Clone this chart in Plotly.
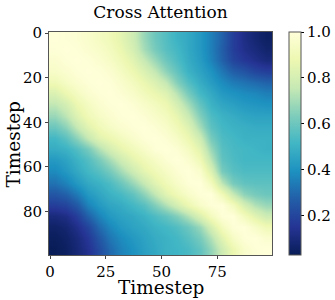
import plotly.graph_objects as go

title_text = "Cross Attention"
x_label = "Timestep"
y_label = "Timestep"

# 20x20 block-averaged attention (each block = 5 timesteps)
block = 5
n_steps = 100
attention = [
    [1.00, 0.99, 0.98, 0.96, 0.93, 0.90, 0.85, 0.78, 0.68, 0.60, 0.55, 0.50, 0.47, 0.42, 0.35, 0.28, 0.18, 0.12, 0.08, 0.05],
    [0.99, 1.00, 0.99, 0.97, 0.95, 0.92, 0.87, 0.80, 0.70, 0.62, 0.56, 0.52, 0.47, 0.42, 0.35, 0.27, 0.18, 0.13, 0.10, 0.07],
    [0.97, 0.99, 1.00, 0.99, 0.97, 0.94, 0.90, 0.84, 0.76, 0.68, 0.60, 0.54, 0.48, 0.43, 0.36, 0.28, 0.20, 0.16, 0.13, 0.10],
    [0.95, 0.97, 0.99, 1.00, 0.99, 0.97, 0.93, 0.88, 0.82, 0.75, 0.66, 0.58, 0.50, 0.45, 0.40, 0.33, 0.27, 0.24, 0.20, 0.18],
    [0.90, 0.94, 0.97, 0.99, 1.00, 0.99, 0.96, 0.92, 0.87, 0.82, 0.75, 0.64, 0.55, 0.48, 0.43, 0.38, 0.34, 0.32, 0.30, 0.28],
    [0.82, 0.88, 0.93, 0.97, 0.99, 1.00, 0.98, 0.95, 0.91, 0.87, 0.83, 0.73, 0.62, 0.52, 0.47, 0.42, 0.40, 0.38, 0.37, 0.35],
    [0.75, 0.80, 0.88, 0.93, 0.97, 0.99, 1.00, 0.98, 0.95, 0.92, 0.88, 0.80, 0.70, 0.58, 0.50, 0.46, 0.44, 0.42, 0.41, 0.40],
    [0.68, 0.74, 0.83, 0.90, 0.94, 0.97, 0.99, 1.00, 0.98, 0.95, 0.92, 0.86, 0.77, 0.64, 0.54, 0.50, 0.48, 0.46, 0.45, 0.45],
    [0.60, 0.66, 0.76, 0.84, 0.90, 0.94, 0.97, 0.99, 1.00, 0.98, 0.95, 0.90, 0.83, 0.70, 0.57, 0.52, 0.50, 0.49, 0.48, 0.48],
    [0.52, 0.57, 0.66, 0.76, 0.84, 0.88, 0.92, 0.96, 0.99, 1.00, 0.98, 0.94, 0.88, 0.78, 0.62, 0.54, 0.52, 0.50, 0.50, 0.50],
    [0.48, 0.50, 0.55, 0.62, 0.72, 0.80, 0.86, 0.91, 0.95, 0.99, 1.00, 0.98, 0.93, 0.84, 0.68, 0.56, 0.53, 0.52, 0.51, 0.50],
    [0.42, 0.45, 0.50, 0.55, 0.62, 0.70, 0.78, 0.85, 0.90, 0.94, 0.98, 1.00, 0.97, 0.90, 0.74, 0.58, 0.54, 0.52, 0.52, 0.52],
    [0.38, 0.42, 0.47, 0.52, 0.56, 0.62, 0.70, 0.78, 0.85, 0.90, 0.94, 0.98, 1.00, 0.96, 0.82, 0.62, 0.56, 0.54, 0.54, 0.54],
    [0.32, 0.36, 0.42, 0.47, 0.50, 0.54, 0.60, 0.68, 0.76, 0.84, 0.90, 0.95, 0.99, 1.00, 0.92, 0.74, 0.62, 0.58, 0.57, 0.57],
    [0.25, 0.28, 0.34, 0.42, 0.46, 0.50, 0.53, 0.58, 0.66, 0.75, 0.84, 0.90, 0.95, 0.99, 1.00, 0.90, 0.76, 0.66, 0.62, 0.60],
    [0.18, 0.20, 0.26, 0.36, 0.42, 0.46, 0.48, 0.52, 0.56, 0.64, 0.72, 0.80, 0.88, 0.95, 0.99, 1.00, 0.92, 0.80, 0.72, 0.68],
    [0.10, 0.12, 0.18, 0.28, 0.36, 0.42, 0.45, 0.47, 0.50, 0.54, 0.58, 0.64, 0.72, 0.82, 0.92, 0.99, 1.00, 0.92, 0.84, 0.78],
    [0.06, 0.08, 0.13, 0.20, 0.30, 0.37, 0.42, 0.45, 0.47, 0.50, 0.52, 0.55, 0.60, 0.68, 0.80, 0.92, 0.99, 1.00, 0.95, 0.90],
    [0.04, 0.06, 0.10, 0.16, 0.25, 0.33, 0.38, 0.42, 0.45, 0.48, 0.50, 0.52, 0.56, 0.62, 0.72, 0.84, 0.94, 0.99, 1.00, 0.97],
    [0.03, 0.05, 0.09, 0.14, 0.22, 0.30, 0.36, 0.40, 0.44, 0.47, 0.50, 0.51, 0.53, 0.58, 0.67, 0.78, 0.88, 0.96, 0.99, 1.00],
]
x_ticks = [0, 25, 50, 75]
y_ticks = [0, 20, 40, 60, 80]
cbar_ticks = [0.2, 0.4, 0.6, 0.8, 1.0]
z_min, z_max = 0.03, 1.0

centers = [b * block + (block - 1) / 2 for b in range(n_steps // block)]

ylgnbu_r = [
    [0.0, "rgb(8,29,88)"], [0.125, "rgb(37,52,148)"], [0.25, "rgb(34,94,168)"],
    [0.375, "rgb(29,145,192)"], [0.5, "rgb(65,182,196)"], [0.625, "rgb(127,205,187)"],
    [0.75, "rgb(199,233,180)"], [0.875, "rgb(237,248,177)"], [1.0, "rgb(255,255,217)"],
]

font_family = "DejaVu Serif"
W, H = 335, 300
ML, MR, MT, MB = 49, 63, 32, 45
plot_w = W - ML - MR
plot_h = H - MT - MB

fig = go.Figure(go.Heatmap(
    z=attention, x=centers, y=centers,
    colorscale=ylgnbu_r, zmin=z_min, zmax=z_max, zsmooth="best",
    colorbar=dict(
        thickness=12, len=1, lenmode="fraction", x=(289 - ML) / plot_w, xanchor="left",
        xpad=0, ypad=0,
        y=0.5, yanchor="middle", outlinewidth=1, outlinecolor="#555",
        tickvals=cbar_ticks, ticktext=[f"{v:.1f}" for v in cbar_ticks],
        ticks="outside", ticklen=3, tickcolor="black",
        tickfont=dict(family=font_family, size=15, color="black"),
    ),
))

fig.update_layout(
    width=W, height=H,
    margin=dict(l=ML, r=MR, t=MT, b=MB, autoexpand=False),
    paper_bgcolor="white", plot_bgcolor="white",
    title=dict(text=title_text, x=0.5, xref="paper", xanchor="center",
               y=1 - 12.5 / H, yanchor="middle",
               font=dict(family=font_family, size=17, color="black")),
    font=dict(family=font_family, color="black"),
    annotations=[
        dict(text=x_label, xref="paper", yref="paper", x=0.5, y=-(287 - (MT + plot_h)) / plot_h,
             xanchor="center", yanchor="middle", showarrow=False,
             font=dict(family=font_family, size=18.5, color="black")),
        dict(text=y_label, xref="paper", yref="paper", x=-(ML - 12.5) / plot_w, y=0.5 - 1.5 / plot_h,
             xanchor="center", yanchor="middle", textangle=-90, showarrow=False,
             font=dict(family=font_family, size=18.5, color="black")),
    ],
)
fig.update_xaxes(
    range=[-0.5, n_steps - 0.5], tickvals=x_ticks, ticks="outside", ticklen=3,
    tickfont=dict(size=15), showgrid=False, zeroline=False, automargin=False,
    showline=True, linecolor="#555", linewidth=1, mirror=True,
)
fig.update_yaxes(
    range=[n_steps - 0.5, -0.5], tickvals=y_ticks, ticks="outside", ticklen=3,
    tickfont=dict(size=15), showgrid=False, zeroline=False, automargin=False,
    showline=True, linecolor="#555", linewidth=1, mirror=True,
)

fig.write_html("out.html", config={"displayModeBar": False},
               post_script="document.body.style.margin='0';")
